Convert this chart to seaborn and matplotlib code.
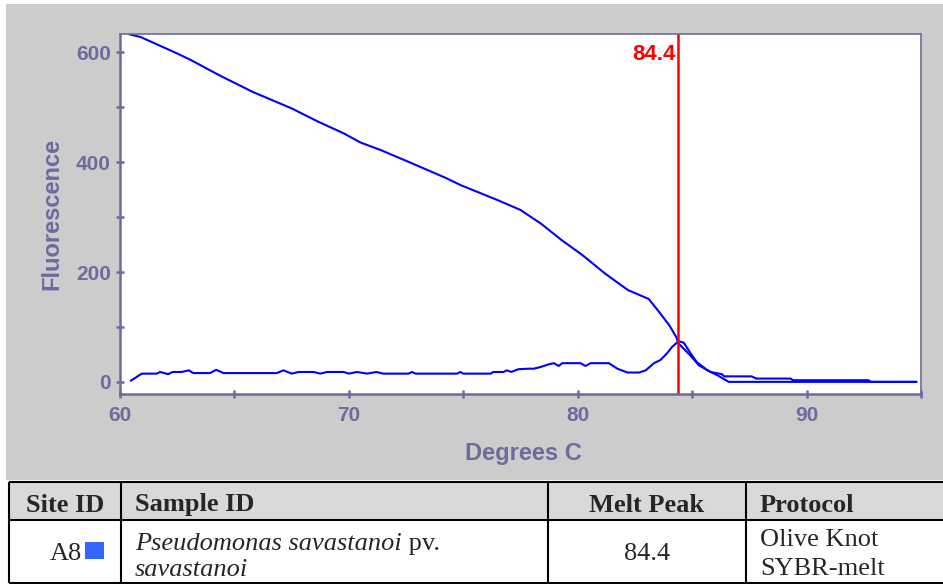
import matplotlib
matplotlib.use("Agg")
import matplotlib.pyplot as plt
from matplotlib.patches import Rectangle
from matplotlib.ticker import MultipleLocator
import seaborn as sns

# -------------- datos

# curva de fluorescencia (desciende al fundir)
temp_fluor = [60.4, 60.9, 61.7, 62.5, 63.1, 64.4, 65.8, 67.5, 68.6, 69.8,
              70.5, 71.4, 72.7, 74.2, 74.9, 76.5, 77.5, 78.4, 79.3, 80.2,
              81.2, 82.2, 83.1, 83.6, 84.0, 84.3, 84.4, 84.9, 85.3, 85.8,
              86.3, 86.4, 87.6, 87.8, 89.3, 89.4, 92.7, 92.8, 94.8]
fluorescencia = [633, 628, 613, 598, 586, 557, 528, 498, 475, 452,
                 436, 422, 399, 372, 358, 331, 313, 288, 258, 231,
                 197, 167, 151, 125, 103, 82, 70, 49, 30, 18,
                 14, 10, 10, 6, 6, 3, 3, 0, 0]

# curva derivada (pico de fusion)
temp_deriv = [60.47, 60.95, 61.6, 61.75, 62.1, 62.3, 62.7, 63.0, 63.2, 63.94,
              64.2, 64.52, 66.85, 67.14, 67.5, 67.8, 68.45, 68.75, 69.04, 69.77,
              70.0, 70.35, 70.8, 71.2, 71.5, 72.6, 72.77, 72.9, 74.73, 74.87,
              75.0, 76.2, 76.3, 76.76, 76.9, 77.1, 77.4, 77.86, 78.08, 78.37,
              78.74, 78.96, 79.17, 79.32, 80.12, 80.34, 80.56, 81.36, 81.73, 82.17,
              82.68, 82.97, 83.33, 83.62, 83.9, 84.13, 84.35, 84.42, 84.64, 84.93,
              85.2, 85.67, 86.1, 86.6, 94.8]
derivada = [2, 15, 15, 18, 14, 18, 18, 21, 16, 16,
            22, 16, 16, 21, 15, 18, 18, 15, 18, 18,
            15, 18, 15, 18, 15, 15, 18, 15, 15, 18,
            15, 15, 18, 18, 21, 18, 23, 24, 24, 27,
            32, 34, 29, 34, 34, 29, 34, 34, 24, 17,
            17, 21, 34, 40, 52, 64, 72, 74, 71, 52,
            36, 21, 12, 0, 0]

pico_fusion = 84.4

# tabla de abajo
encabezados = ["Site ID", "Sample ID", "Melt Peak", "Protocol"]
sitio = "A8"
muestra_italica = "Pseudomonas savastanoi"
muestra_normal = " pv."
muestra_linea2 = "savastanoi"
protocolo = ["Olive Knot", "SYBR-melt"]

# -------------- estilo

sns.set_style("ticks")
plt.rcParams["font.family"] = ["Liberation Sans", "DejaVu Sans"]
color_eje = "#6b6b9e"
serif = ["Liberation Serif", "DejaVu Serif"]

fig = plt.figure(figsize=(9.43, 5.84), dpi=100)

# fondo gris y tabla, en coordenadas de pixel
fondo = fig.add_axes([0, 0, 1, 1], zorder=0)
fondo.set_xlim(0, 943)
fondo.set_ylim(584, 0)
fondo.axis("off")
fondo.add_patch(Rectangle((6, 4), 937, 476, color="#cccccc", lw=0))
fondo.add_patch(Rectangle((8.7, 481.7), 935, 38.3, color="#d9d9d9", lw=0))
for y in [481.7, 520, 582.7]:
    fondo.plot([8.7, 943], [y, y], color="black", lw=1.5, solid_capstyle="butt")
for x in [8.7, 120.7, 548, 745.7]:
    fondo.plot([x, x], [481.7, 582.7], color="black", lw=1.5, solid_capstyle="butt")

tam = 19
fondo.text(64.7, 511.5, encabezados[0], ha="center", va="baseline", fontsize=tam, fontweight="bold", family=serif)
fondo.text(135, 511.5, encabezados[1], ha="left", va="baseline", fontsize=tam, fontweight="bold", family=serif)
fondo.text(647, 511.5, encabezados[2], ha="center", va="baseline", fontsize=tam, fontweight="bold", family=serif)
fondo.text(760, 511.5, encabezados[3], ha="left", va="baseline", fontsize=tam, fontweight="bold", family=serif)

fondo.text(82, 560.5, sitio, ha="right", va="baseline", fontsize=tam, family=serif)
fondo.add_patch(Rectangle((85, 542.3), 19.3, 17, color="#3366ff", lw=0))
t1 = fondo.text(135, 555, muestra_italica, ha="left", va="bottom", fontsize=tam, style="italic", family=serif)
fondo.annotate(muestra_normal, xy=(1, 0), xycoords=t1, ha="left", va="bottom", fontsize=tam, family=serif)
fondo.text(135, 576.5, muestra_linea2, ha="left", va="baseline", fontsize=tam, style="italic", family=serif)
fondo.text(647, 560.5, f"{pico_fusion}", ha="center", va="baseline", fontsize=tam, family=serif)
fondo.text(760, 546, protocolo[0], ha="left", va="baseline", fontsize=tam, family=serif)
fondo.text(760, 575, protocolo[1], ha="left", va="baseline", fontsize=tam, family=serif)

# -------------- grafica de fusion

ax = fig.add_axes([0.1273, 0.3245, 0.8494, 0.6168], zorder=1)
ax.set_facecolor("white")

sns.lineplot(x=temp_fluor, y=fluorescencia, ax=ax, color="#0000ff", lw=1.5,
             sort=False, estimator=None)
sns.lineplot(x=temp_deriv, y=derivada, ax=ax, color="#0000ff", lw=1.5,
             sort=False, estimator=None)
ax.axvline(pico_fusion, color="#ff0000", lw=1.8)
ax.text(pico_fusion - 0.13, 616, f"{pico_fusion}", color="#ff0000", ha="right", va="top",
        fontsize=16, fontweight="bold")

ax.set_xlim(60, 95)
ax.set_ylim(-23, 633)
ax.xaxis.set_major_locator(MultipleLocator(10))
ax.xaxis.set_minor_locator(MultipleLocator(5))
ax.yaxis.set_major_locator(MultipleLocator(200))
ax.yaxis.set_minor_locator(MultipleLocator(100))

ax.tick_params(which="both", direction="inout", length=6, width=1.8, color=color_eje,
               labelcolor=color_eje, labelsize=15)
ax.tick_params(axis="y", pad=3.6)
ax.tick_params(axis="x", pad=5.5)
plt.setp(ax.get_xticklabels(), fontweight="bold")
plt.setp(ax.get_yticklabels(), fontweight="bold")

for lado in ["left", "bottom"]:
    ax.spines[lado].set_color(color_eje)
    ax.spines[lado].set_linewidth(1.8)
for lado in ["top", "right"]:
    ax.spines[lado].set_color(color_eje)
    ax.spines[lado].set_linewidth(1.2)

ax.set_xlabel("Degrees C", fontsize=17, fontweight="bold", color=color_eje)
ax.set_ylabel("Fluorescence", fontsize=17, fontweight="bold", color=color_eje)
ax.xaxis.set_label_coords(0.503, -0.165)
ax.xaxis.label.set_verticalalignment("center")
ax.yaxis.set_label_coords(-0.085, 0.5)
ax.yaxis.label.set_verticalalignment("center")

fig.savefig("out.png", dpi=100)
